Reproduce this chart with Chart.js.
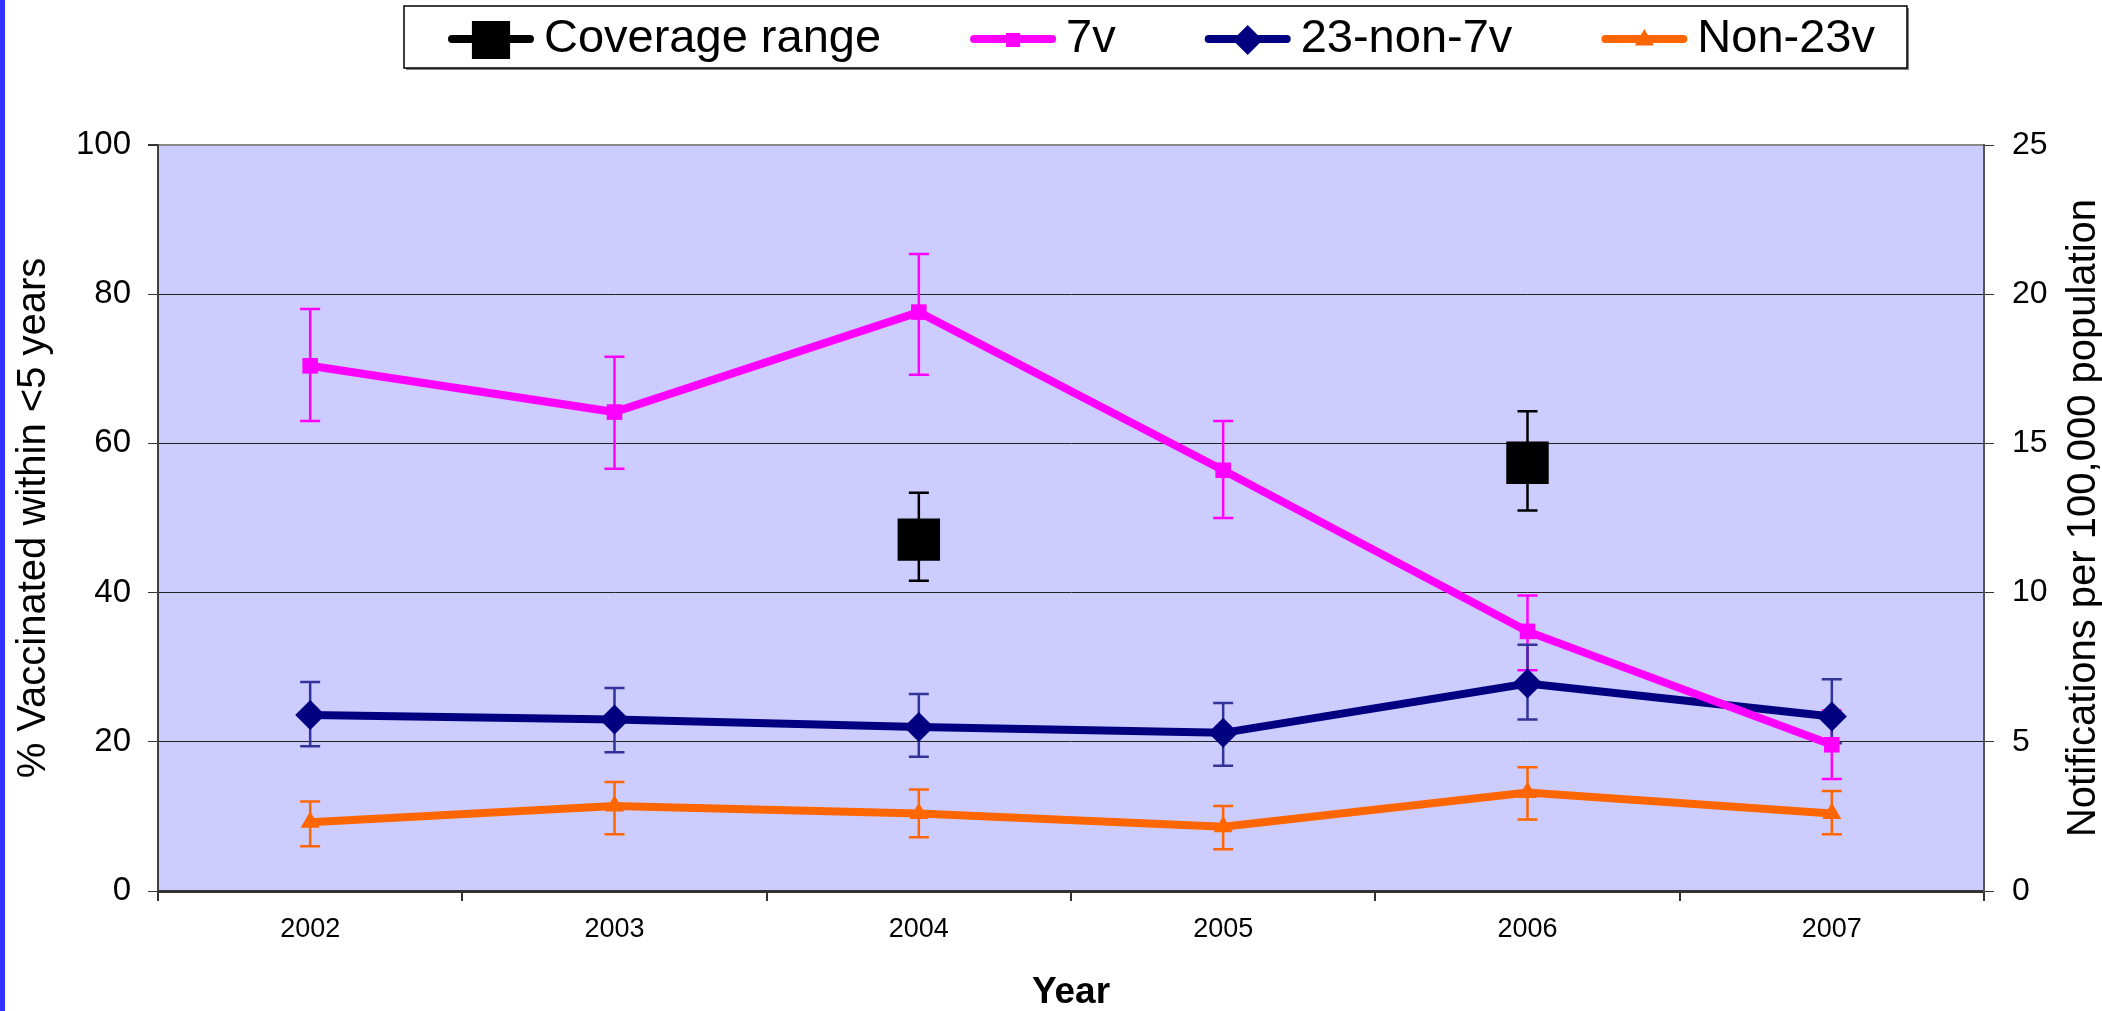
<!DOCTYPE html>
<html>
<head>
<meta charset="utf-8">
<title>Notifications and coverage</title>
<script src="https://cdn.jsdelivr.net/npm/chart.js@4.4.1/dist/chart.umd.min.js"></script>
<style>
  html, body { margin: 0; padding: 0; background: #fff; }
  #wrap { width: 2102px; height: 1011px; position: relative; }
</style>
</head>
<body>
<div id="wrap"><canvas id="chart"></canvas></div>
<script>
// categories
const years = ['2002', '2003', '2004', '2005', '2006', '2007'];

// coverage (% vaccinated, left axis)
const coverage     = [null, null, 47.1, null, 57.4, null];
const coverageLow  = [null, null, 41.6, null, 51.0, null];
const coverageHigh = [null, null, 53.4, null, 64.3, null];

// notifications per 100,000 (right axis)
const v7      = [17.6, 16.05, 19.4, 14.1, 8.7, 4.9];
const v7Low   = [15.75, 14.15, 17.3, 12.5, 7.4, 3.75];
const v7High  = [19.5, 17.9, 21.35, 15.75, 9.9, 6.05];

const non7     = [5.9, 5.75, 5.5, 5.3, 6.95, 5.85];
const non7Low  = [4.85, 4.65, 4.5, 4.2, 5.75, 4.95];
const non7High = [7.0, 6.8, 6.6, 6.3, 8.25, 7.1];

const non23     = [2.3, 2.85, 2.6, 2.15, 3.3, 2.6];
const non23Low  = [1.5, 1.9, 1.8, 1.4, 2.4, 1.9];
const non23High = [3.0, 3.65, 3.4, 2.85, 4.15, 3.35];

// axis ranges
const leftMax = 100, leftStep = 20;
const rightMax = 25, rightStep = 5;

const FONT = "'Liberation Sans', Arial, Helvetica, sans-serif";

// white page, blue strip on the left, lilac plot area
const backdrop = {
    id: 'backdrop',
    beforeDraw(chart) {
        const {ctx, chartArea: a} = chart;
        ctx.save();
        ctx.fillStyle = '#ffffff';
        ctx.fillRect(0, 0, chart.width, chart.height);
        ctx.fillStyle = '#3333ff';
        ctx.fillRect(0, 0, 5, chart.height);
        ctx.fillStyle = '#ccccff';
        ctx.fillRect(a.left, a.top, a.right - a.left, a.bottom - a.top);
        ctx.restore();
    }
};

// vertical error bars with caps
const errorBars = {
    id: 'errorBars',
    beforeDatasetsDraw(chart) {
        const ctx = chart.ctx;
        chart.data.datasets.forEach((ds, i) => {
            const meta = chart.getDatasetMeta(i);
            const scale = chart.scales[ds.yAxisID];
            ctx.save();
            ctx.strokeStyle = ds.errColor || ds.borderColor;
            ctx.lineWidth = 2.5;
            meta.data.forEach((pt, j) => {
                if (ds.errLow[j] == null) return;
                const x = pt.x;
                const y0 = scale.getPixelForValue(ds.errLow[j]);
                const y1 = scale.getPixelForValue(ds.errHigh[j]);
                ctx.beginPath();
                ctx.moveTo(x, y0); ctx.lineTo(x, y1);
                ctx.moveTo(x - 10, y0); ctx.lineTo(x + 10, y0);
                ctx.moveTo(x - 10, y1); ctx.lineTo(x + 10, y1);
                ctx.stroke();
            });
            ctx.restore();
        });
    }
};

// right-hand title, reading bottom to top
const rightTitle = {
    id: 'rightTitle',
    afterDraw(chart) {
        const {ctx, chartArea: a} = chart;
        ctx.save();
        ctx.translate(2084, (a.top + a.bottom) / 2);
        ctx.rotate(-Math.PI / 2);
        ctx.font = '40px ' + FONT;
        ctx.fillStyle = '#000';
        ctx.textAlign = 'center';
        ctx.textBaseline = 'middle';
        ctx.fillText('Notifications per 100,000 population', 0, 0);
        ctx.restore();
    }
};

// boxed legend with line + marker icons
const boxLegend = {
    id: 'boxLegend',
    afterDraw(chart) {
        const ctx = chart.ctx;
        const cy = 39;
        ctx.save();
        ctx.font = '47px ' + FONT;
        let x = 448;
        const items = chart.data.datasets.map(ds => {
            const w = ctx.measureText(ds.label).width;
            const item = {ds, x, w};
            x += 96 + w + 89;
            return item;
        });
        const last = items[items.length - 1];
        const left = items[0].x - 44;
        const right = last.x + 96 + last.w + 32;
        ctx.fillStyle = '#fff';
        ctx.fillRect(left, 6, right - left, 62);
        ctx.strokeStyle = '#808080';
        ctx.lineWidth = 2;
        ctx.beginPath();
        ctx.moveTo(left + 2, 69); ctx.lineTo(right + 1, 69); ctx.lineTo(right + 1, 8);
        ctx.stroke();
        ctx.strokeStyle = '#000';
        ctx.lineWidth = 1.5;
        ctx.strokeRect(left, 6, right - left, 62);

        items.forEach(({ds, x}) => {
            ctx.strokeStyle = ds.borderColor;
            ctx.lineWidth = 8;
            ctx.lineCap = 'round';
            ctx.beginPath();
            ctx.moveTo(x + 4, cy); ctx.lineTo(x + 82, cy);
            ctx.stroke();
            ctx.fillStyle = ds.pointBackgroundColor;
            Chart.helpers.drawPoint(ctx, {
                pointStyle: ds.pointStyle,
                radius: ds.legendRadius,
                rotation: 0,
                borderWidth: 0
            }, x + 43, cy + 1);
            ctx.fillStyle = '#000';
            ctx.textAlign = 'left';
            ctx.textBaseline = 'middle';
            ctx.fillText(ds.label, x + 96, cy);
        });
        ctx.restore();
    }
};

function series(label, data, low, high, color, style, radius, legendRadius, axis, extra) {
    return Object.assign({
        label: label,
        data: data,
        errLow: low,
        errHigh: high,
        yAxisID: axis,
        borderColor: color,
        backgroundColor: color,
        borderWidth: 8,
        tension: 0,
        pointStyle: style,
        pointRadius: radius,
        pointHoverRadius: radius,
        legendRadius: legendRadius,
        pointBackgroundColor: color,
        pointBorderColor: color,
        pointBorderWidth: 0
    }, extra || {});
}

new Chart(document.getElementById('chart'), {
    type: 'line',
    data: {
        labels: years,
        datasets: [
            series('Coverage range', coverage, coverageLow, coverageHigh, '#000000', 'rect', 30, 27, 'y', {showLine: false}),
            series('7v', v7, v7Low, v7High, '#ff00ff', 'rect', 11, 10, 'y1'),
            series('23-non-7v', non7, non7Low, non7High, '#000080', 'rectRot', 15, 15, 'y1', {errColor: '#333399'}),
            series('Non-23v', non23, non23Low, non23High, '#ff6600', 'triangle', 11, 11, 'y1')
        ]
    },
    options: {
        responsive: true,
        maintainAspectRatio: false,
        animation: false,
        layout: { padding: { top: 145, left: 0, right: 0, bottom: 0 } },
        plugins: {
            legend: { display: false },
            tooltip: { enabled: false }
        },
        scales: {
            x: {
                type: 'category',
                offset: true,
                grid: {
                    offset: true,
                    drawOnChartArea: false,
                    drawTicks: true,
                    tickLength: 10,
                    color: '#333',
                    lineWidth: 2
                },
                border: { display: true, color: '#333', width: 3 },
                ticks: {
                    font: { family: FONT, size: 27 },
                    color: '#000',
                    padding: 12,
                    maxRotation: 0,
                    autoSkip: false
                },
                title: {
                    display: true,
                    text: 'Year',
                    color: '#000',
                    font: { family: FONT, size: 37, weight: 'bold', lineHeight: 1 },
                    padding: 0
                },
                afterFit(s) { s.height = 120; }
            },
            y: {
                position: 'left',
                min: 0,
                max: leftMax,
                ticks: {
                    stepSize: leftStep,
                    font: { family: FONT, size: 33 },
                    color: '#000',
                    padding: 17
                },
                grid: {
                    color: c => c.tick && c.tick.value === leftMax ? '#888' : '#222',
                    lineWidth: c => c.tick && c.tick.value === leftMax ? 2 : 1,
                    tickColor: '#333',
                    tickLength: 10
                },
                border: { display: true, color: '#404040', width: 2 },
                title: {
                    display: true,
                    text: '% Vaccinated within <5 years',
                    color: '#000',
                    font: { family: FONT, size: 40 },
                    padding: { top: 10, bottom: 0 }
                },
                afterFit(s) { s.width = 158; }
            },
            y1: {
                position: 'right',
                min: 0,
                max: rightMax,
                ticks: {
                    stepSize: rightStep,
                    font: { family: FONT, size: 32 },
                    color: '#000',
                    padding: 18
                },
                grid: {
                    drawOnChartArea: false,
                    tickColor: '#333',
                    tickLength: 10
                },
                border: { display: true, color: '#555', width: 2 },
                afterFit(s) { s.width = 118; }
            }
        }
    },
    plugins: [backdrop, errorBars, rightTitle, boxLegend]
});
</script>
</body>
</html>
